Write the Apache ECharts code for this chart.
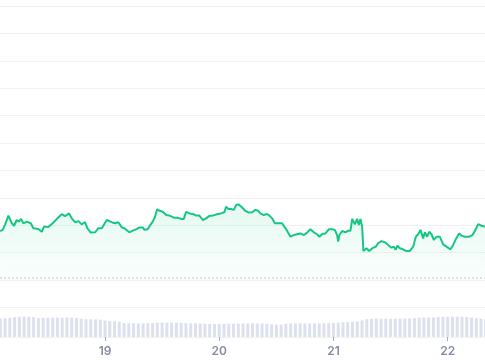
<!DOCTYPE html>
<html>
<head>
<meta charset="utf-8">
<script src="https://cdn.jsdelivr.net/npm/echarts@6/dist/echarts.min.js"></script>
<style>
html,body{margin:0;padding:0;background:#fff;}
#chart{width:485px;height:360px;}
</style>
</head>
<body>
<div id="chart"></div>
<script>
// x values are days of the month (fractional), prices in arbitrary units
const priceTimes = [18.081,18.104,18.125,18.154,18.183,18.204,18.227,18.247,18.265,18.285,18.315,18.350,18.373,18.416,18.446,18.466,18.504,18.542,18.583,18.621,18.650,18.685,18.709,18.738,18.767,18.796,18.825,18.845,18.875,18.913,18.942,18.972,19.015,19.059,19.088,19.117,19.147,19.169,19.213,19.243,19.272,19.301,19.331,19.345,19.374,19.397,19.418,19.438,19.456,19.476,19.506,19.535,19.564,19.585,19.607,19.637,19.666,19.690,19.710,19.739,19.769,19.797,19.826,19.856,19.885,19.914,19.944,19.987,20.016,20.045,20.060,20.080,20.104,20.128,20.148,20.168,20.191,20.209,20.229,20.259,20.288,20.317,20.340,20.360,20.390,20.419,20.439,20.463,20.487,20.522,20.551,20.574,20.594,20.623,20.653,20.682,20.711,20.741,20.769,20.798,20.828,20.857,20.877,20.901,20.930,20.959,20.988,21.012,21.032,21.041,21.052,21.076,21.105,21.128,21.149,21.164,21.187,21.207,21.222,21.236,21.251,21.262,21.289,21.312,21.341,21.371,21.391,21.420,21.450,21.479,21.508,21.529,21.543,21.560,21.581,21.604,21.634,21.669,21.698,21.721,21.741,21.762,21.785,21.800,21.820,21.838,21.858,21.879,21.902,21.931,21.960,21.989,22.024,22.048,22.072,22.100,22.121,22.150,22.188,22.217,22.238,22.267,22.296,22.328];
const priceValues = [17.9,18.3,20.1,23.5,20.8,19.8,21.9,21.3,22.3,20.7,21.3,20.7,18.9,18.6,17.6,19.5,19.3,20.7,22.5,24.0,23.3,24.3,22.5,21.1,21.5,20.3,21.1,18.9,17.3,17.4,18.9,18.9,21.9,21.1,20.7,21.1,19.2,18.9,17.4,18.0,18.5,19.2,19.2,18.3,18.5,20.1,21.3,23.1,25.8,25.3,24.9,23.7,23.5,23.1,22.7,22.7,22.3,22.3,24.9,24.3,24.1,23.5,23.5,21.9,22.5,23.4,23.5,24.1,24.3,24.7,26.8,25.9,25.9,25.6,27.4,27.6,26.8,26.1,25.2,24.6,24.7,25.6,25.3,24.3,23.7,24.1,23.5,22.5,20.7,20.7,20.7,19.2,18.0,15.8,16.4,16.7,17.0,16.4,17.3,18.5,17.4,16.7,15.8,16.8,17.0,18.5,18.5,18.3,16.4,14.0,16.4,17.9,17.4,18.0,18.0,22.3,20.3,22.3,20.1,22.3,19.5,10.6,11.6,10.6,11.6,12.2,13.4,14.2,13.8,12.8,11.8,12.2,11.0,12.5,11.6,11.3,10.6,10.6,12.2,15.8,16.7,18.3,15.2,17.4,15.8,17.6,16.7,14.6,15.8,15.8,13.0,12.2,11.2,12.8,15.0,17.0,16.2,15.8,15.8,16.4,17.9,20.4,19.8,19.5];
// hourly volume, starting 18th 02:00
const volumeStart = 18.0833;
const volumeValues = [18.6,18.8,19.2,19.8,20.2,20.3,20.2,19.8,18.7,19.1,19.3,19.2,19.4,19.2,19.5,19.4,19.0,18.3,17.8,17.7,17.6,17.4,16.4,16.0,15.8,15.2,14.0,13.7,13.7,13.6,13.7,13.8,13.9,14.3,14.4,14.3,14.3,14.2,14.0,13.9,13.6,13.7,13.5,13.3,13.1,13.0,13.1,13.2,13.4,13.3,13.5,13.6,13.6,13.7,13.6,13.5,13.3,12.8,12.2,12.4,13.2,13.5,13.6,13.7,13.6,13.5,13.7,13.6,13.8,13.9,14.0,14.4,14.7,14.8,15.0,15.4,16.6,17.9,18.3,18.4,18.3,18.4,18.2,18.3,18.2,18.4,18.6,18.9,19.2,19.4,19.5,19.6,19.9,20.2,20.3,20.4,20.3,20.2,20.0,19.4,18.8,18.4,18.2];
const dayTicks = [19, 20, 21, 22];
const referencePrice = 0.8;

const xMin = 18.0806, xMax = 22.3266;
const priceData = priceTimes.map((t, i) => [t, priceValues[i]]);
const volumeData = volumeValues.map((v, i) => [volumeStart + i / 24, v]);

const chart = echarts.init(document.getElementById('chart'), null, {renderer: 'canvas'});
chart.setOption({
  animation: false,
  backgroundColor: '#ffffff',
  grid: [
    {left: 0, right: 0, top: 6, height: 274},
    {left: 0, right: 0, top: 307, height: 30}
  ],
  xAxis: [
    {gridIndex: 0, type: 'value', min: xMin, max: xMax,
     axisLine: {show: false}, axisTick: {show: false}, axisLabel: {show: false}, splitLine: {show: false}},
    {gridIndex: 1, type: 'value', min: xMin, max: xMax,
     axisLine: {show: false},
     axisTick: {show: true, customValues: dayTicks, length: 4, lineStyle: {color: '#a7adb9', width: 1}},
     axisLabel: {show: true, customValues: dayTicks, margin: 8, color: '#858ca2', fontSize: 12, fontWeight: 600,
                 fontFamily: 'Inter, "Noto Sans", sans-serif', formatter: v => String(Math.round(v))},
     splitLine: {show: false}}
  ],
  yAxis: [
    {gridIndex: 0, type: 'value', min: 0, max: 100, interval: 10,
     axisLine: {show: false}, axisTick: {show: false}, axisLabel: {show: false},
     splitLine: {show: true, lineStyle: {color: '#f1f2f4', width: 1}}},
    {gridIndex: 1, type: 'value', min: 0, max: 30, interval: 30,
     axisLine: {show: false}, axisTick: {show: false}, axisLabel: {show: false},
     splitLine: {show: true, lineStyle: {color: '#f1f2f4', width: 1}}}
  ],
  series: [
    {
      type: 'line', xAxisIndex: 0, yAxisIndex: 0, data: priceData,
      showSymbol: false, symbol: 'none',
      lineStyle: {color: '#16c784', width: 2},
      areaStyle: {color: new echarts.graphic.LinearGradient(0, 0, 0, 1, [
        {offset: 0, color: 'rgba(22,199,132,0.16)'},
        {offset: 1, color: 'rgba(22,199,132,0.02)'}
      ])},
      markLine: {
        silent: true, symbol: 'none', label: {show: false},
        lineStyle: {color: '#d3d6dc', type: [2, 2], width: 1.5},
        data: [{yAxis: referencePrice}]
      },
      z: 3
    },
    {
      type: 'bar', xAxisIndex: 1, yAxisIndex: 1, data: volumeData,
      barWidth: 3,
      itemStyle: {color: '#dce1ed'},
      z: 2
    }
  ]
});
</script>
</body>
</html>
